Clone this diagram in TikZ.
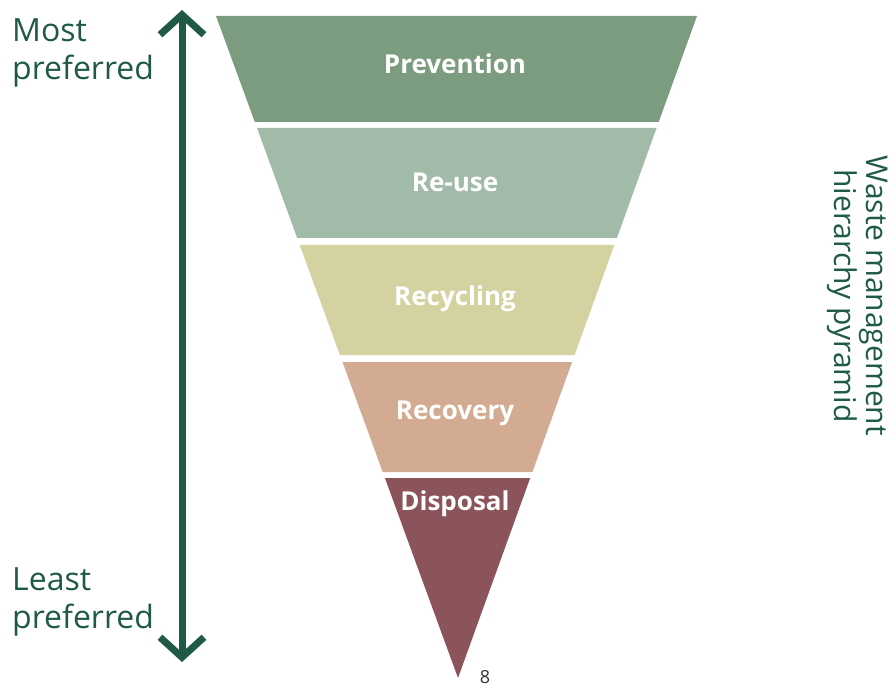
\documentclass[tikz,border=0pt]{standalone}
\usepackage{fontspec}
\setmainfont{Open Sans}
\usetikzlibrary{arrows.meta}

\definecolor{darkgreen}{HTML}{1F5A44}
\definecolor{preventioncol}{HTML}{7C9C80}
\definecolor{reusecol}{HTML}{A1BBA8}
\definecolor{recyclingcol}{HTML}{D4D2A0}
\definecolor{recoverycol}{HTML}{D3AB92}
\definecolor{disposalcol}{HTML}{8B545A}

\begin{document}
\begin{tikzpicture}[x=1pt,y=-1pt,
  bandlabel/.style={text=white,font=\bfseries\fontsize{26}{30}\selectfont},
  sidelabel/.style={text=darkgreen,align=left,inner sep=0pt,anchor=north west,
    font=\fontsize{32}{38}\selectfont},
  hierarrow/.style={draw=darkgreen,line width=7pt,
    {Straight Barb[length=20pt,width=44pt]}-{Straight Barb[length=20pt,width=44pt]}}]
  \useasboundingbox (0,0) rectangle (892,687);

  % bands
  \fill[preventioncol] (216,16) -- (697,16) -- (658.7,122) -- (254.8,122) -- cycle;
  \fill[reusecol] (257.0,128) -- (656.6,128) -- (616.9,238) -- (297.2,238) -- cycle;
  \fill[recyclingcol] (299.7,245) -- (614.3,245) -- (574.6,355) -- (339.9,355) -- cycle;
  \fill[recoverycol] (342.5,362) -- (572.1,362) -- (532.4,472) -- (382.7,472) -- cycle;
  \fill[disposalcol] (384.9,478) -- (530.2,478) -- (458,678) -- cycle;

  % labels
  \node[bandlabel] (prevention) at (455,64) {Prevention};
  \node[bandlabel] (reuse) at (455,182) {Re-use};
  \node[bandlabel] (recycling) at (455,299) {Recycling};
  \node[bandlabel] (recovery) at (455,413) {Recovery};
  \node[bandlabel] (disposal) at (455,504) {Disposal};

  % arrow
  \coordinate (most) at (182,10);
  \coordinate (least) at (182,662);
  \draw[hierarrow] (most) -- (least);
  \node[sidelabel] (mostlabel) at (12,18) {Most\\preferred};
  \node[sidelabel] (leastlabel) at (12,567) {Least\\preferred};

  % title
  \node[text=darkgreen,rotate=-90,align=center,
    font=\fontsize{30}{32}\selectfont] (title) at (858,296)
    {Waste management\\hierarchy pyramid};
  \node[text=black!80,font=\fontsize{18}{20}\selectfont,anchor=north] (pagenum) at (485,667) {8};
\end{tikzpicture}
\end{document}
